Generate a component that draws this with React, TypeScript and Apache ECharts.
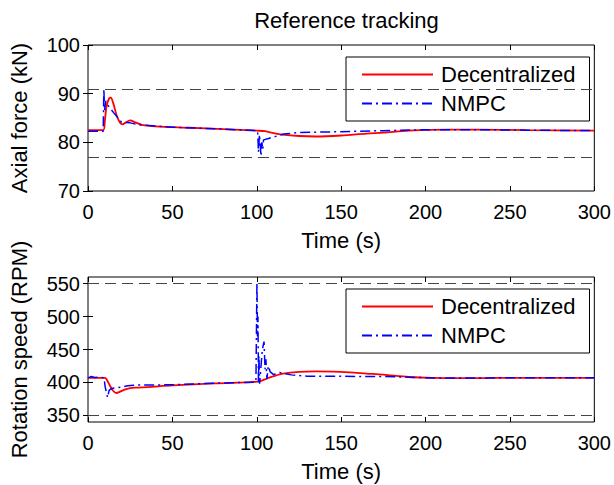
import React, { useEffect, useRef } from "react";
import * as echarts from "echarts";

// ---- Data ----
const timeTicks = [0, 50, 100, 150, 200, 250, 300];
const forceTicks = [70, 80, 90, 100];
const speedTicks = [350, 400, 450, 500, 550];

const forceLimits = [91, 77];
const speedLimits = [550, 350];

const timeRedTop = [0, 9, 10, 11, 12.5, 13.5, 15, 17, 19, 20.5, 22, 25, 28, 32, 40, 60, 80, 100, 105, 110, 115, 125, 135, 150, 165, 175, 190, 214, 230, 260, 300];
const forceRedTop = [82.5, 82.5, 84.5, 87.5, 89.0, 89.2, 88.0, 85.5, 84.0, 83.7, 84.0, 84.5, 84.1, 83.6, 83.3, 83.0, 82.7, 82.4, 82.3, 81.9, 81.6, 81.3, 81.2, 81.4, 81.8, 82.0, 82.4, 82.6, 82.6, 82.5, 82.4];

const timeNmpcTop = [0, 9, 9.4, 9.8, 10.5, 12, 15.4, 19.7, 25, 30, 50, 75, 100.5, 101, 101.6, 102.5, 103, 103.6, 104, 107, 112, 116, 125, 150, 175, 200, 230, 260, 300];
const forceNmpcTop = [82.3, 82.3, 91.0, 86.5, 88.5, 87.5, 86.0, 84.2, 84.0, 83.6, 83.1, 82.8, 82.4, 78.0, 81.6, 77.2, 80.0, 78.6, 80.5, 80.8, 81.3, 81.7, 82.0, 82.2, 82.4, 82.6, 82.6, 82.5, 82.4];

const timeRedBottom = [0, 10, 11, 13, 15, 16.8, 19, 22.7, 28, 35.5, 50, 75, 99, 102, 106, 110, 115.6, 125, 135, 145, 155, 165, 175, 190, 204, 224, 244, 270, 300];
const speedRedBottom = [406.8, 406.8, 405, 395, 387, 384, 386, 390, 392, 393, 395.5, 398.5, 400.8, 402, 406, 409.5, 413.3, 416, 416.8, 416.5, 415.3, 413.5, 411.8, 408.3, 406.8, 406.5, 406.8, 407, 407];

const timeNmpcBottom = [0, 2, 4, 7, 9.5, 10.2, 11.6, 12.5, 14, 20, 23.5, 30, 50, 75, 99.5, 100.1, 100.4, 100.7, 101.0, 101.3, 101.7, 103.3, 104.3, 104.9, 105.4, 106, 106.8, 108, 110, 113.6, 120.5, 130, 150, 175, 190, 204, 250, 300];
const speedNmpcBottom = [407, 409, 407.5, 408, 407, 393, 377, 388, 391, 393, 395, 396, 396.5, 399, 400.5, 551, 470, 500, 400, 440, 398, 450, 462, 420, 435, 405, 425, 416, 412, 415, 411.5, 409.5, 409.3, 409, 408, 406.8, 407, 407];

const seriesNames = ["Decentralized", "NMPC"];

const zip = (xs: number[], ys: number[]) => xs.map((x, i) => [x, ys[i]]);

const FONT = "'Liberation Sans', Arial, Helvetica, sans-serif";
const TICK_FS = 20;
const LABEL_FS = 22;

function buildOption() {
  const tickStyle = { inside: true, length: 5, lineStyle: { color: "#000", width: 1 } };
  const xMain = (gridIndex: number) => ({
    gridIndex,
    type: "value",
    min: timeTicks[0],
    max: timeTicks[timeTicks.length - 1],
    interval: 50,
    position: "bottom",
    axisLine: { show: false },
    axisTick: tickStyle,
    axisLabel: { fontSize: TICK_FS, fontFamily: FONT, color: "#000", margin: 11 },
    splitLine: { show: false },
    name: "Time (s)",
    nameLocation: "middle",
    nameGap: 38,
    nameTextStyle: { fontSize: LABEL_FS, fontFamily: FONT, color: "#000" },
  });
  const xMirror = (gridIndex: number) => ({
    gridIndex,
    type: "value",
    min: timeTicks[0],
    max: timeTicks[timeTicks.length - 1],
    interval: 50,
    position: "top",
    axisLine: { show: false },
    axisTick: tickStyle,
    axisLabel: { show: false },
    splitLine: { show: false },
  });
  const limitLine = (vals: number[]) => ({
    silent: true,
    symbol: ["none", "none"],
    label: { show: false },
    lineStyle: { type: [11, 6], color: "#444", width: 1 },
    data: vals.map((v) => ({ yAxis: v })),
  });

  const legendCommon = {
    orient: "vertical",
    left: 346,
    data: seriesNames,
    selectedMode: false,
    backgroundColor: "#fff",
    borderColor: "#000",
    borderWidth: 1,
    padding: [6, 14, 6, 15],
    itemWidth: 71,
    itemHeight: 14,
    itemGap: 6,
    itemStyle: { opacity: 0 },
    textStyle: { fontSize: LABEL_FS, fontFamily: FONT, color: "#000", lineHeight: 23, padding: [0, 0, 0, 3] },
  };

  return {
    animation: false,
    backgroundColor: "#fff",
    title: {
      text: "Reference tracking",
      left: 341.5,
      top: 4,
      textAlign: "center",
      textStyle: { fontSize: LABEL_FS, fontWeight: "normal", fontFamily: FONT, color: "#000" },
    },
    legend: [
      { ...legendCommon, top: 57 },
      { ...legendCommon, top: 289 },
    ],
    grid: [
      { left: 88, top: 45, width: 507, height: 146, show: true, borderColor: "#000", borderWidth: 1, backgroundColor: "transparent" },
      { left: 88, top: 277, width: 507, height: 145, show: true, borderColor: "#000", borderWidth: 1, backgroundColor: "transparent" },
    ],
    xAxis: [xMain(0), xMirror(0), xMain(1), xMirror(1)],
    yAxis: [
      {
        gridIndex: 0,
        type: "value",
        min: forceTicks[0],
        max: forceTicks[forceTicks.length - 1],
        interval: 10,
        position: "left",
        axisLine: { show: false },
        axisTick: tickStyle,
        axisLabel: { fontSize: TICK_FS, fontFamily: FONT, color: "#000", margin: 8 },
        splitLine: { show: false },
        name: "Axial force (kN)",
        nameLocation: "middle",
        nameGap: 58,
        nameTextStyle: { fontSize: LABEL_FS, fontFamily: FONT, color: "#000" },
      },
      {
        gridIndex: 0,
        type: "value",
        min: forceTicks[0],
        max: forceTicks[forceTicks.length - 1],
        interval: 10,
        position: "right",
        axisLine: { show: false },
        axisTick: tickStyle,
        axisLabel: { show: false },
        splitLine: { show: false },
      },
      {
        gridIndex: 1,
        type: "value",
        min: 340,
        max: 560,
        position: "left",
        axisLine: { show: false },
        axisTick: { ...tickStyle, customValues: speedTicks },
        axisLabel: { fontSize: TICK_FS, fontFamily: FONT, color: "#000", margin: 8, customValues: speedTicks },
        splitLine: { show: false },
        name: "Rotation speed (RPM)",
        nameLocation: "middle",
        nameGap: 58,
        nameTextStyle: { fontSize: LABEL_FS, fontFamily: FONT, color: "#000" },
      },
      {
        gridIndex: 1,
        type: "value",
        min: 340,
        max: 560,
        position: "right",
        axisLine: { show: false },
        axisTick: { ...tickStyle, customValues: speedTicks },
        axisLabel: { show: false },
        splitLine: { show: false },
      },
    ],
    series: [
      {
        name: seriesNames[0],
        type: "line",
        xAxisIndex: 0,
        yAxisIndex: 0,
        data: zip(timeRedTop, forceRedTop),
        showSymbol: false,
        symbol: "none",
        smooth: 0.3,
        lineStyle: { color: "#ff0000", width: 1.8 },
        itemStyle: { color: "#ff0000" },
        markLine: limitLine(forceLimits),
        z: 3,
      },
      {
        name: seriesNames[1],
        type: "line",
        xAxisIndex: 0,
        yAxisIndex: 0,
        data: zip(timeNmpcTop, forceNmpcTop),
        showSymbol: false,
        symbol: "none",
        lineStyle: { color: "#0000ff", width: 1.5, type: [10, 4, 2, 4] },
        itemStyle: { color: "#0000ff" },
        z: 4,
      },
      {
        name: seriesNames[0],
        type: "line",
        xAxisIndex: 2,
        yAxisIndex: 2,
        data: zip(timeRedBottom, speedRedBottom),
        showSymbol: false,
        symbol: "none",
        smooth: 0.3,
        lineStyle: { color: "#ff0000", width: 1.8 },
        itemStyle: { color: "#ff0000" },
        markLine: limitLine(speedLimits),
        z: 3,
      },
      {
        name: seriesNames[1],
        type: "line",
        xAxisIndex: 2,
        yAxisIndex: 2,
        data: zip(timeNmpcBottom, speedNmpcBottom),
        showSymbol: false,
        symbol: "none",
        lineStyle: { color: "#0000ff", width: 1.5, type: [10, 4, 2, 4] },
        itemStyle: { color: "#0000ff" },
        z: 4,
      },
    ],
  };
}

export default function App() {
  const ref = useRef<HTMLDivElement>(null);
  useEffect(() => {
    document.body.style.margin = "0";
    if (!ref.current) return;
    const chart = echarts.init(ref.current, undefined, { renderer: "svg" });
    chart.setOption(buildOption() as any);
    return () => chart.dispose();
  }, []);
  return <div ref={ref} style={{ width: 614, height: 485 }} />;
}
